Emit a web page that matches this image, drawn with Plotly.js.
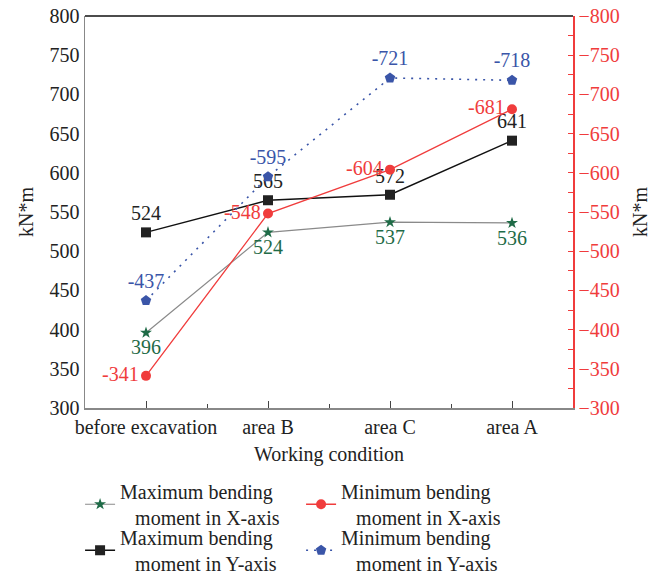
<!DOCTYPE html>
<html>
<head>
<meta charset="utf-8">
<script src="https://cdn.plot.ly/plotly-3.0.1.min.js"></script>
<style>body{margin:0;padding:0;background:#fff;}#chart{width:651px;height:576px;}</style>
</head>
<body>
<div id="chart"></div>
<script>
const categories = ["before excavation", "area B", "area C", "area A"];
const maxX = [396, 524, 537, 536];
const minX = [-341, -548, -604, -681];
const maxY = [524, 565, 572, 641];
const minY = [-437, -595, -721, -718];
const legendNames = [
  "Maximum bending<br>\u00a0\u00a0\u00a0moment in X-axis",
  "Minimum bending<br>\u00a0\u00a0\u00a0moment in X-axis",
  "Maximum bending<br>\u00a0\u00a0\u00a0moment in Y-axis",
  "Minimum bending<br>\u00a0\u00a0\u00a0moment in Y-axis"
];

const idx = categories.map((c, i) => i);
const F = "Liberation Serif, Times New Roman, serif";
const FS = 20;
const GREEN = "#1f6b47", RED = "#f03c3c", BLUE = "#3a55a8", BLACK = "#222";

const traces = [
  {
    x: idx, y: maxX, name: legendNames[0], yaxis: "y", legend: "legend",
    mode: "lines+markers+text", text: maxX.map(String), textposition: "bottom center",
    textfont: {family: F, size: FS, color: GREEN},
    line: {color: "#8a8a8a", width: 1.2},
    marker: {symbol: "star", size: 9, color: GREEN}
  },
  {
    x: idx, y: minX, name: legendNames[1], yaxis: "y2", legend: "legend",
    mode: "lines+markers+text", text: minX.map(String), textposition: "middle left",
    textfont: {family: F, size: FS, color: RED},
    line: {color: RED, width: 1.3},
    marker: {symbol: "circle", size: 10, color: RED}
  },
  {
    x: idx, y: maxY, name: legendNames[2], yaxis: "y", legend: "legend2",
    mode: "lines+markers+text", text: maxY.map(String), textposition: "top center",
    textfont: {family: F, size: FS, color: BLACK},
    line: {color: "#111", width: 1.5},
    marker: {symbol: "square", size: 10, color: BLACK}
  },
  {
    x: idx, y: minY, name: legendNames[3], yaxis: "y2", legend: "legend2",
    mode: "lines+markers+text", text: minY.map(String), textposition: "top center",
    textfont: {family: F, size: FS, color: BLUE},
    line: {color: BLUE, width: 1.6, dash: "2px,6px"},
    marker: {symbol: "pentagon", size: 11, color: BLUE}
  }
];

const legendCommon = {
  orientation: "h", x: 0.123, xref: "container", xanchor: "left",
  yref: "container", yanchor: "top",
  entrywidth: 176, entrywidthmode: "pixels",
  font: {family: F, size: FS, color: "#222"},
  itemwidth: 30, traceorder: "normal", bgcolor: "rgba(0,0,0,0)"
};

const layout = {
  width: 651, height: 576,
  margin: {l: 85, r: 78, t: 16, b: 168, autoexpand: false},
  paper_bgcolor: "#fff", plot_bgcolor: "#fff",
  font: {family: F, size: FS, color: "#222"},
  showlegend: true,
  legend: Object.assign({}, legendCommon, {y: 0.181}),
  legend2: Object.assign({}, legendCommon, {y: 0.101}),
  xaxis: {
    range: [-0.5, 3.5], tickvals: idx, ticktext: categories,
    showgrid: false, zeroline: false,
    showline: true, linecolor: "#888", linewidth: 1.5,
    ticks: "inside", ticklen: 7, tickcolor: "#444",
    minor: {dtick: 0.5, tick0: 0.5, ticks: "inside", ticklen: 4, tickcolor: "#444"},
    tickfont: {family: F, size: FS, color: "#222"},
    title: {text: "Working condition", font: {family: F, size: FS, color: "#222"}, standoff: 10}
  },
  yaxis: {
    range: [300, 800], dtick: 50, showgrid: false, zeroline: false,
    showline: true, linecolor: "#888", linewidth: 1.5,
    ticks: "", tickfont: {family: F, size: FS, color: "#222"},
    title: {text: "kN*m", font: {family: F, size: FS, color: "#222"}, standoff: 10}
  },
  yaxis2: {
    overlaying: "y", side: "right",
    range: [-300, -800], dtick: 50, showgrid: false, zeroline: false,
    showline: true, linecolor: RED, linewidth: 1.5,
    ticks: "inside", ticklen: 5, tickcolor: RED,
    minor: {dtick: 25, ticks: "inside", ticklen: 5, tickcolor: RED},
    tickfont: {family: F, size: FS, color: RED},
    title: {text: "kN*m", font: {family: F, size: FS, color: "#222"}, standoff: 14}
  },
  shapes: [
    {type: "line", xref: "paper", yref: "paper", x0: 0, x1: 1, y0: 1, y1: 1, line: {color: "#111", width: 1.5}}
  ]
};

Plotly.newPlot("chart", traces, layout, {displayModeBar: false, staticPlot: true});
</script>
</body>
</html>
